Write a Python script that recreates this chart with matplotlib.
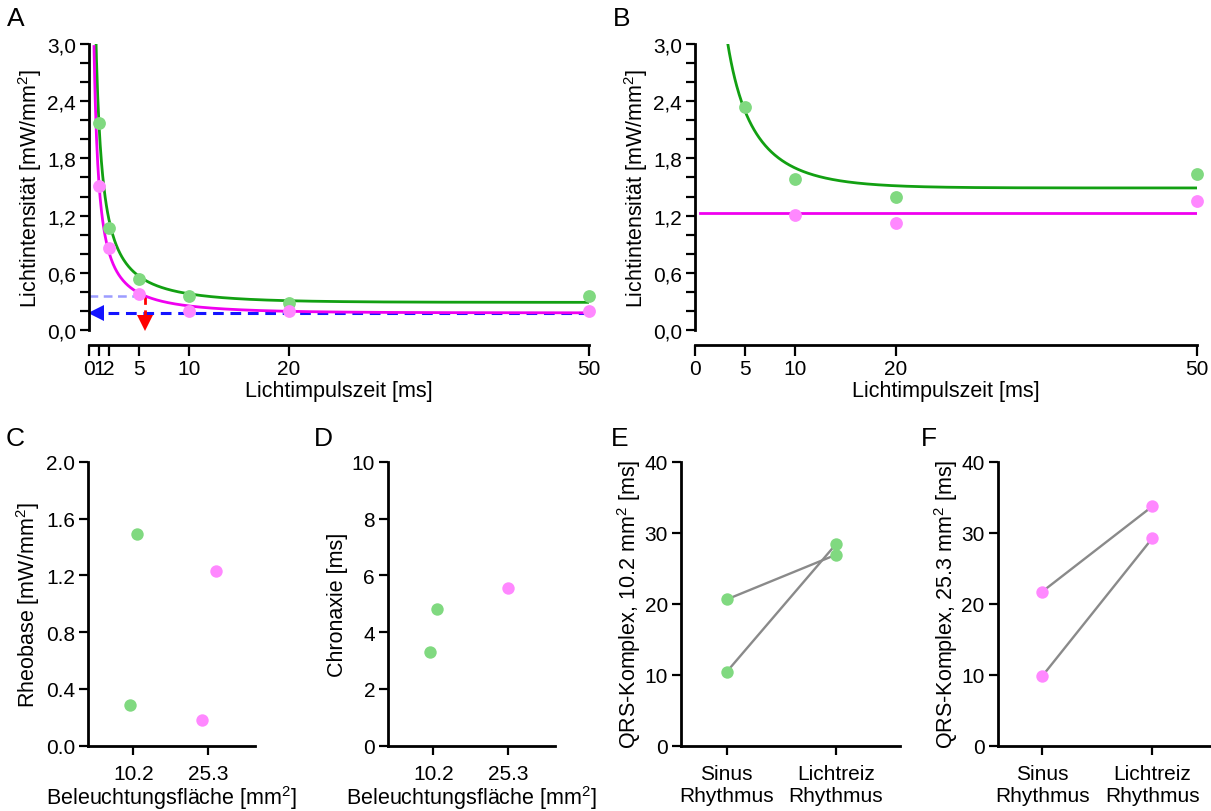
import matplotlib
matplotlib.use("Agg")
import matplotlib.pyplot as plt
import numpy as np
from matplotlib.ticker import MultipleLocator

plt.rcParams["font.family"] = ["Liberation Sans", "DejaVu Sans"]
plt.rcParams["mathtext.fontset"] = "custom"
plt.rcParams["mathtext.rm"] = "Liberation Sans"
plt.rcParams["mathtext.it"] = "Liberation Sans:italic"
plt.rcParams["font.size"] = 15.5

# --- data -----------------------------------------------------------------
# panel A (animal 1) strength-duration points
pulse_a_ms = [1, 2, 5, 10, 20, 50]
green_a = [2.17, 1.07, 0.54, 0.36, 0.28, 0.36]
pink_a = [1.51, 0.86, 0.38, 0.20, 0.20, 0.20]

# panel B (animal 2)
pulse_b_green_ms = [5, 10, 20, 50]
green_b = [2.34, 1.58, 1.40, 1.64]
pulse_b_pink_ms = [10, 20, 50]
pink_b = [1.21, 1.12, 1.35]

# fit parameters (panels C and D); index 0 = animal in A, 1 = animal in B
rheobase_green = [0.29, 1.49]   # 10.2 mm^2
rheobase_pink = [0.18, 1.23]    # 25.3 mm^2
chronaxie_green = [4.8, 3.3]
chronaxie_pink = [5.55]

area_labels = ["10.2", "25.3"]

# panels E and F, QRS duration [ms]; pairs (Sinus, Lichtreiz)
qrs_sinus_10 = [20.6, 10.4]
qrs_licht_10 = [26.9, 28.4]
qrs_sinus_25 = [21.7, 9.8]
qrs_licht_25 = [33.7, 29.2]
rhythm_labels = ["Sinus\nRhythmus", "Lichtreiz\nRhythmus"]

GREEN_LINE = "#12a012"
PINK_LINE = "#f000f0"
GREEN_DOT = "#80d980"
PINK_DOT = "#ff88ff"
GREY = "#8a8a8a"
TICK_FS = 15

W, H = 1211, 812
fig = plt.figure(figsize=(W / 100, H / 100), dpi=100)


def px_axes(x0, y0, x1, y1):
    return fig.add_axes([x0 / W, 1 - y1 / H, (x1 - x0) / W, (y1 - y0) / H])


def style(ax):
    for s in ("top", "right"):
        ax.spines[s].set_visible(False)
    for s in ("left", "bottom"):
        ax.spines[s].set_linewidth(2.0)
    ax.tick_params(width=1.6, length=6.5, labelsize=TICK_FS, pad=3)


def lapicque(t, rheobase, chronaxie):
    return rheobase / (1 - np.exp(-t * np.log(2) / chronaxie))


t_fit = np.linspace(0.5, 50, 800)
y_ticks_ab = [0, 0.6, 1.2, 1.8, 2.4, 3.0]
y_labels_ab = ["0,0", "0,6", "1,2", "1,8", "2,4", "3,0"]
ylab_ab = "Lichtintensität [mW/mm$^2$]"


def style_top(ax, xticks):
    style(ax)
    ax.set_xlim(0, 50)
    ax.set_ylim(0, 3.0)
    ax.spines["bottom"].set_position(("outward", 11))
    ax.spines["bottom"].set_bounds(0, 50)
    ax.set_xticks(xticks)
    ax.set_yticks(y_ticks_ab)
    ax.set_yticklabels(y_labels_ab)
    ax.yaxis.set_minor_locator(MultipleLocator(0.2))
    ax.tick_params(axis="y", which="minor", width=1.6, length=6.5)
    ax.tick_params(axis="x", length=8, pad=2)
    ax.set_xlabel("Lichtimpulszeit [ms]", labelpad=1)
    ax.set_ylabel(ylab_ab, labelpad=2)


# ---------------- A ----------------
ax = px_axes(89, 45, 589, 331)
style_top(ax, [0, 1, 2, 5, 10, 20, 50])
rh, ch = rheobase_pink[0], chronaxie_pink[0]
ax.plot([0, ch], [2 * rh, 2 * rh], color="#9c9cff", ls=(0, (3.5, 2.2)), lw=1.8, zorder=1.5)
ax.plot([50, 0.9], [rh, rh], color="#1414ff", ls=(0, (3.5, 2.2)), lw=2.2, zorder=1.5)
ax.plot([0.65], [rh], marker="<", ms=12, color="#1414ff", mew=0, clip_on=False, zorder=1.6)
ax.plot([ch, ch], [2 * rh, 0.13], color="#ff0000", ls=(0, (3, 2)), lw=2, zorder=1.5)
ax.plot([ch], [0.075], marker="v", ms=11, color="#ff0000", mew=0, clip_on=False, zorder=1.6)
ax.plot(t_fit, lapicque(t_fit, rheobase_green[0], chronaxie_green[0]), color=GREEN_LINE, lw=2, zorder=2)
ax.plot(t_fit, lapicque(t_fit, rh, ch), color=PINK_LINE, lw=2, zorder=2)
ax.scatter(pulse_a_ms, green_a, s=85, color=GREEN_DOT, lw=0, zorder=3, clip_on=False)
ax.scatter(pulse_a_ms, pink_a, s=85, color=PINK_DOT, lw=0, zorder=3, clip_on=False)

# ---------------- B ----------------
ax = px_axes(695, 45, 1197, 331)
style_top(ax, [0, 5, 10, 20, 50])
ax.plot(t_fit, lapicque(t_fit, rheobase_green[1], chronaxie_green[1]), color=GREEN_LINE, lw=2, zorder=2)
ax.plot([0.5, 50], [rheobase_pink[1], rheobase_pink[1]], color=PINK_LINE, lw=2, zorder=2)
ax.scatter(pulse_b_green_ms, green_b, s=85, color=GREEN_DOT, lw=0, zorder=3, clip_on=False)
ax.scatter(pulse_b_pink_ms, pink_b, s=85, color=PINK_DOT, lw=0, zorder=3, clip_on=False)


def style_bottom(ax, xlim, xticklabels):
    style(ax)
    ax.set_xlim(*xlim)
    ax.set_xticks([0, 1])
    ax.set_xticklabels(xticklabels)
    ax.tick_params(axis="x", pad=7)


# ---------------- C ----------------
jit_green = [-0.044, 0.053]
jit_pink = [-0.084, 0.103]
ax = px_axes(88.3, 462.7, 255, 746.7)
style_bottom(ax, (-0.6, 1.62), area_labels)
ax.set_ylim(0, 2.0)
ax.set_yticks(np.arange(0, 2.01, 0.4))
ax.set_yticklabels(["0.0", "0.4", "0.8", "1.2", "1.6", "2.0"])
ax.scatter(np.add(0, jit_green), rheobase_green, s=80, color=GREEN_DOT, lw=0, zorder=3)
ax.scatter(np.add(1, jit_pink), rheobase_pink, s=80, color=PINK_DOT, lw=0, zorder=3)
ax.set_ylabel("Rheobase [mW/mm$^2$]", labelpad=3)
ax.set_xlabel("Beleuchtungsfläche [mm$^2$]", labelpad=0)

# ---------------- D ----------------
ax = px_axes(388.3, 462.7, 555, 746.7)
style_bottom(ax, (-0.6, 1.62), area_labels)
ax.set_ylim(0, 10)
ax.set_yticks(range(0, 11, 2))
ax.scatter(np.add(0, [0.053, -0.044]), chronaxie_green, s=80, color=GREEN_DOT, lw=0, zorder=3)
ax.scatter([1.0], chronaxie_pink, s=80, color=PINK_DOT, lw=0, zorder=3)
ax.set_ylabel("Chronaxie [ms]", labelpad=3)
ax.set_xlabel("Beleuchtungsfläche [mm$^2$]", labelpad=0)


# ---------------- E / F ----------------
def paired(ax, sinus, licht, dot):
    for a, b in zip(sinus, licht):
        ax.plot([0, 1], [a, b], color=GREY, lw=1.7, zorder=2)
    ax.scatter([0] * len(sinus), sinus, s=80, color=dot, lw=0, zorder=3)
    ax.scatter([1] * len(licht), licht, s=80, color=dot, lw=0, zorder=3)
    ax.set_ylim(0, 40)
    ax.set_yticks(range(0, 41, 10))


ax = px_axes(681, 462.7, 900, 746.7)
style_bottom(ax, (-0.418, 1.585), rhythm_labels)
paired(ax, qrs_sinus_10, qrs_licht_10, GREEN_DOT)
ax.set_ylabel("QRS-Komplex, 10.2 mm$^2$ [ms]", labelpad=1)

ax = px_axes(997.7, 462.7, 1216, 746.7)
style_bottom(ax, (-0.405, 1.58), rhythm_labels)
paired(ax, qrs_sinus_25, qrs_licht_25, PINK_DOT)
ax.set_ylabel("QRS-Komplex, 25.3 mm$^2$ [ms]", labelpad=1)

# panel letters
for letter, x, y in [("A", 7, 7), ("B", 613, 7), ("C", 6, 427), ("D", 314, 427),
                     ("E", 611, 427), ("F", 921, 427)]:
    fig.text(x / W, 1 - y / H, letter, fontsize=19, ha="left", va="top")

fig.savefig("out.png", dpi=100)
